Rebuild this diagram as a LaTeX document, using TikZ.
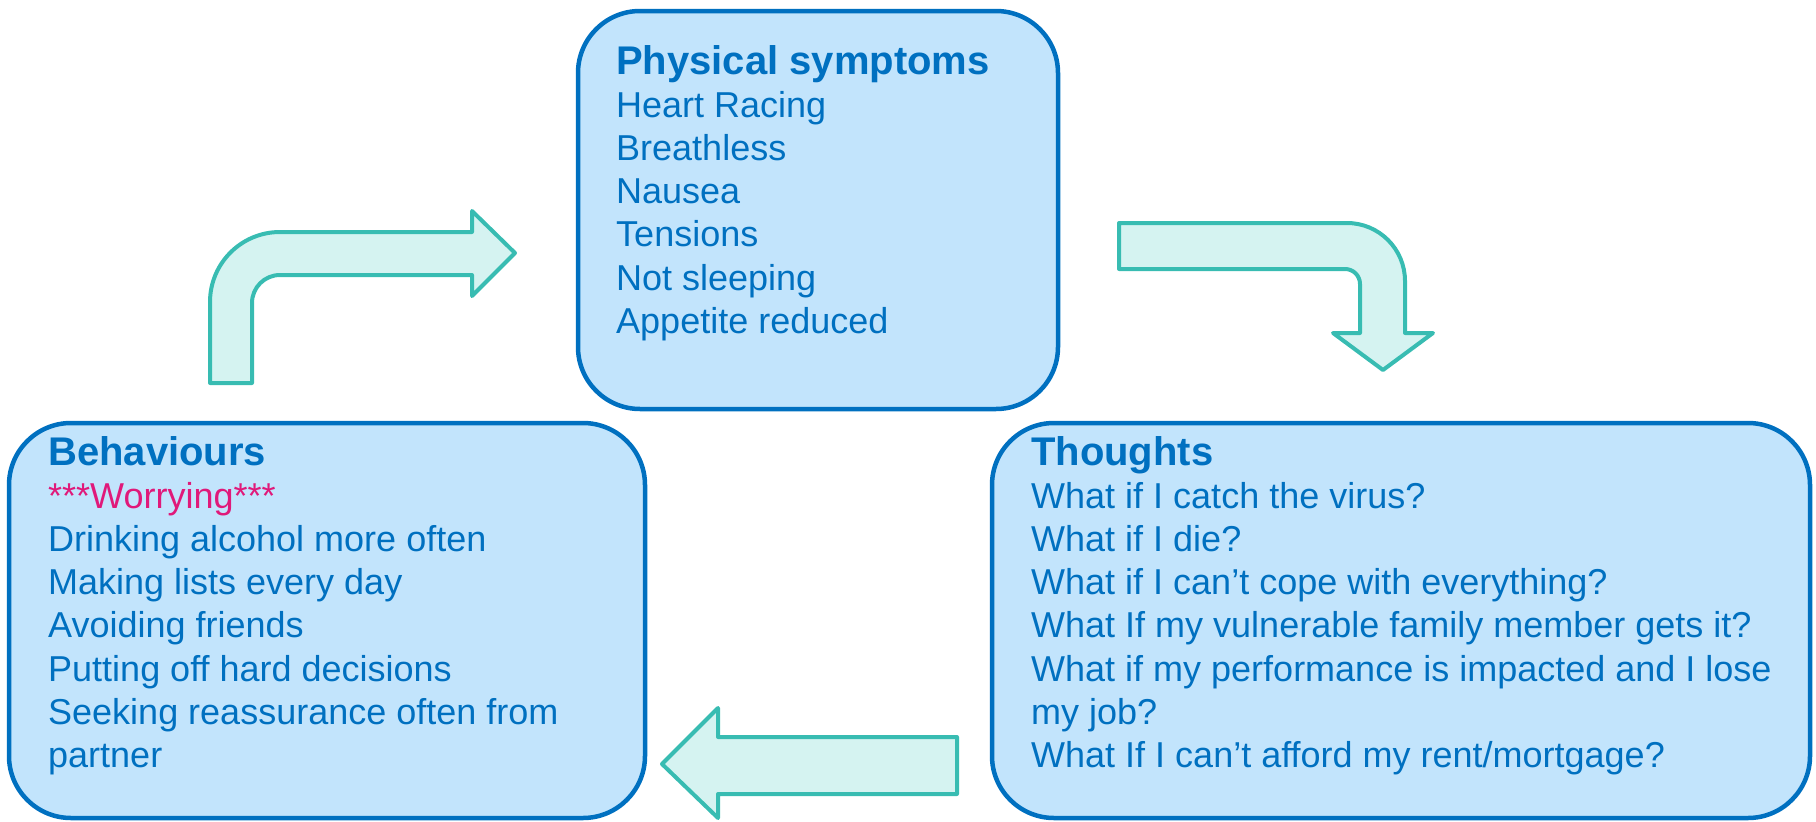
\documentclass[tikz,border=0pt]{standalone}
\usepackage{fontspec}
\setmainfont{Liberation Sans}
\definecolor{txtblue}{HTML}{0070C0}
\definecolor{boxfill}{HTML}{C2E4FC}
\definecolor{arrfill}{HTML}{D5F3F1}
\definecolor{arrline}{HTML}{38BCB2}
\definecolor{worry}{HTML}{E0197A}
\begin{document}
\begin{tikzpicture}[x=1pt,y=-1pt,
  box/.style={draw=txtblue, fill=boxfill, line width=4.5pt, rounded corners=62pt, inner sep=0pt},
  bigarrow/.style={draw=arrline, fill=arrfill, line width=4pt, line join=round},
  headtext/.style={anchor=base west, inner sep=0pt, text=txtblue, font=\fontsize{40}{46}\selectfont\bfseries},
  bodyline/.style={anchor=base west, inner sep=0pt, text=txtblue, font=\fontsize{36}{43}\selectfont}
]
\useasboundingbox (0,0) rectangle (1816,822);

% boxes
\node[box, minimum width=480pt, minimum height=398pt] (phys) at (818,210) {};
\node[box, minimum width=636pt, minimum height=395pt] (behav) at (327,620.5) {};
\node[box, minimum width=818pt, minimum height=395pt] (thoughts) at (1401,620.5) {};

% physical symptoms
\node[headtext] (physhead) at (616,74) {Physical symptoms};
\foreach \t [count=\i] in {Heart Racing, Breathless, Nausea, Tensions, Not sleeping, Appetite reduced}
  \node[bodyline] (phys-\i) at (616,{74+43.2*\i}) {\t};

% behaviours
\node[headtext] (behavhead) at (48,465) {Behaviours};
\foreach \t [count=\i] in {{\color{worry}***Worrying***}, Drinking alcohol more often, Making lists every day, Avoiding friends, Putting off hard decisions, Seeking reassurance often from, partner}
  \node[bodyline] (behav-\i) at (48,{465+43.2*\i}) {\t};

% thoughts
\node[headtext] (thoughtshead) at (1031,465) {Thoughts};
\foreach \t [count=\i] in {What if I catch the virus?, What if I die?, What if I can’t cope with everything?, What If my vulnerable family member gets it?, What if my performance is impacted and I lose, my job?, What If I can’t afford my rent/mortgage?}
  \node[bodyline] (thoughts-\i) at (1031,{465+43.2*\i}) {\t};

% arrow: behaviours -> physical symptoms
\draw[bigarrow] (210,383) -- (210,302) .. controls (210,263.3) and (241.3,232) .. (280,232)
  -- (472,232) -- (472,211) -- (515,253) -- (472,296) -- (472,275) -- (280,275)
  .. controls (264.5,275) and (252,287.5) .. (252,303) -- (252,383) -- cycle;

% arrow: physical symptoms -> thoughts
\draw[bigarrow] (1119,223) -- (1347,223) .. controls (1379,223) and (1405,249) .. (1405,281)
  -- (1405,333) -- (1433,333) -- (1383,370) -- (1333,333) -- (1360,333) -- (1360,284)
  .. controls (1360,275.7) and (1353.3,269) .. (1345,269) -- (1119,269) -- cycle;

% arrow: thoughts -> behaviours
\draw[bigarrow] (662,764) -- (718,708) -- (718,737) -- (957,737) -- (957,794) -- (718,794) -- (718,818) -- cycle;
\end{tikzpicture}
\end{document}
